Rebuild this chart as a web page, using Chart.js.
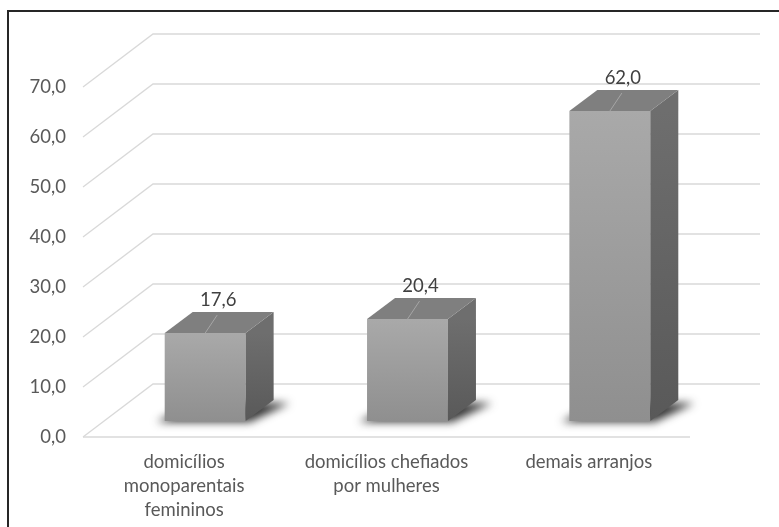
<!DOCTYPE html>
<html>
<head>
<meta charset="utf-8">
<script src="https://cdn.jsdelivr.net/npm/chart.js@4.4.0/dist/chart.umd.min.js"></script>
<style>
html,body{margin:0;padding:0;background:#fff;}
#wrap{width:779px;height:527px;position:relative;}
</style>
</head>
<body>
<div id="wrap"><canvas id="c" width="779" height="527"></canvas></div>
<script>
const categories = [["domicílios","monoparentais","femininos"], ["domicílios chefiados","por mulheres"], ["demais arranjos"]];
const values = [17.6, 20.4, 62.0];
const valueLabels = ["17,6", "20,4", "62,0"];
const yMin = 0, yMax = 70, yStep = 10;

const FONT = 'Lato, "Open Sans", sans-serif';
const DEPTH = {x: 70, y: -53};      // full floor depth
const BAR_FRONT = 0.30, BAR_BACK = 0.70;

const fmt = v => v.toFixed(1).replace('.', ',');

const threeD = {
  id: 'threeD',
  beforeDraw(chart) {
    const ctx = chart.ctx, ca = chart.chartArea, y = chart.scales.y;
    ctx.save();
    ctx.fillStyle = '#fff';
    ctx.fillRect(0, 0, chart.width, chart.height);
    ctx.strokeStyle = '#262626';
    ctx.lineWidth = 2;
    ctx.strokeRect(8, 11, chart.width + 20, chart.height + 20);
    ctx.strokeStyle = '#d9d9d9';
    ctx.lineWidth = 1.3;
    for (let v = yMin; v <= yMax; v += yStep) {
      const py = y.getPixelForValue(v);
      ctx.beginPath();
      ctx.moveTo(ca.left, py);
      ctx.lineTo(ca.left + DEPTH.x, py + DEPTH.y);
      ctx.lineTo(ca.right + DEPTH.x, py + DEPTH.y);
      ctx.stroke();
    }
    const p0 = y.getPixelForValue(0);
    ctx.beginPath();
    ctx.moveTo(ca.left, p0);
    ctx.lineTo(ca.right, p0);
    ctx.stroke();
    ctx.restore();
  },
  beforeDatasetsDraw(chart) {
    const ctx = chart.ctx;
    const meta = chart.getDatasetMeta(0);
    const fx = DEPTH.x * BAR_FRONT, fy = DEPTH.y * BAR_FRONT;
    const dx = DEPTH.x * (BAR_BACK - BAR_FRONT), dy = DEPTH.y * (BAR_BACK - BAR_FRONT);
    meta.data.forEach(bar => {
      const l = bar.x - bar.width / 2 + fx, r = bar.x + bar.width / 2 + fx, b = bar.base + fy;
      ctx.save();
      ctx.filter = 'blur(4px)';
      ctx.fillStyle = 'rgba(30,30,30,0.9)';
      ctx.beginPath();
      ctx.moveTo(l - 8, b + 1);
      ctx.lineTo(r + 4, b + 1);
      ctx.lineTo(r + dx + 16, b + dy + 3);
      ctx.lineTo(l + dx, b + dy + 3);
      ctx.closePath();
      ctx.fill();
      ctx.restore();
    });
    ctx.save();
    ctx.translate(fx, fy);
  },
  afterDatasetsDraw(chart) {
    const ctx = chart.ctx;
    ctx.restore();
    const meta = chart.getDatasetMeta(0);
    const fx = DEPTH.x * BAR_FRONT, fy = DEPTH.y * BAR_FRONT;
    const dx = DEPTH.x * (BAR_BACK - BAR_FRONT), dy = DEPTH.y * (BAR_BACK - BAR_FRONT);
    meta.data.forEach((bar, i) => {
      const l = bar.x - bar.width / 2 + fx, r = bar.x + bar.width / 2 + fx;
      const t = bar.y + fy, b = bar.base + fy;
      ctx.save();
      const sg = ctx.createLinearGradient(0, t, 0, b);
      sg.addColorStop(0, '#6e6e6e');
      sg.addColorStop(1, '#595959');
      ctx.fillStyle = sg;
      ctx.beginPath();
      ctx.moveTo(r, t);
      ctx.lineTo(r + dx, t + dy);
      ctx.lineTo(r + dx, b + dy);
      ctx.lineTo(r, b);
      ctx.closePath();
      ctx.fill();
      ctx.fillStyle = '#7f7f7f';
      ctx.beginPath();
      ctx.moveTo(l, t);
      ctx.lineTo(l + dx, t + dy);
      ctx.lineTo(r + dx, t + dy);
      ctx.lineTo(r, t);
      ctx.closePath();
      ctx.fill();
      const cx = (l + r) / 2;
      ctx.strokeStyle = '#a6a6a6';
      ctx.lineWidth = 1;
      ctx.beginPath();
      ctx.moveTo(cx, t);
      ctx.lineTo(cx + 12, t - 18);
      ctx.stroke();
      ctx.fillStyle = '#404040';
      ctx.font = '18.5px ' + FONT;
      ctx.textAlign = 'center';
      ctx.textBaseline = 'middle';
      ctx.fillText(valueLabels[i], cx + 13, t - 33);
      ctx.restore();
    });
  }
};

new Chart(document.getElementById('c'), {
  type: 'bar',
  data: {
    labels: categories,
    datasets: [{
      data: values,
      backgroundColor: (c) => {
        const ch = c.chart;
        if (!ch.chartArea) return '#a0a0a0';
        const ys = ch.scales.y;
        const t = ys.getPixelForValue(c.raw), b = ys.getPixelForValue(0);
        const g = ch.ctx.createLinearGradient(0, t, 0, b);
        g.addColorStop(0, '#a9a9a9');
        g.addColorStop(1, '#8f8f8f');
        return g;
      },
      borderWidth: 0,
      barPercentage: 0.4,
      categoryPercentage: 1.0
    }]
  },
  options: {
    responsive: false,
    animation: false,
    devicePixelRatio: 1,
    layout: {padding: {top: 87, right: 89, left: 0, bottom: 0}},
    plugins: {legend: {display: false}, tooltip: {enabled: false}},
    scales: {
      x: {
        grid: {display: false, drawTicks: false},
        border: {display: false},
        ticks: {color: '#595959', font: {family: FONT, size: 18.5, lineHeight: 1.3}, padding: 13, maxRotation: 0, autoSkip: false},
        afterFit: s => { s.height = 90; }
      },
      y: {
        min: yMin, max: yMax,
        grid: {display: false, drawTicks: false},
        border: {display: false},
        ticks: {stepSize: yStep, color: '#595959', font: {family: FONT, size: 18.5}, padding: 17, callback: v => fmt(v)},
        afterFit: s => { s.width = 83; }
      }
    }
  },
  plugins: [threeD]
});
</script>
</body>
</html>
